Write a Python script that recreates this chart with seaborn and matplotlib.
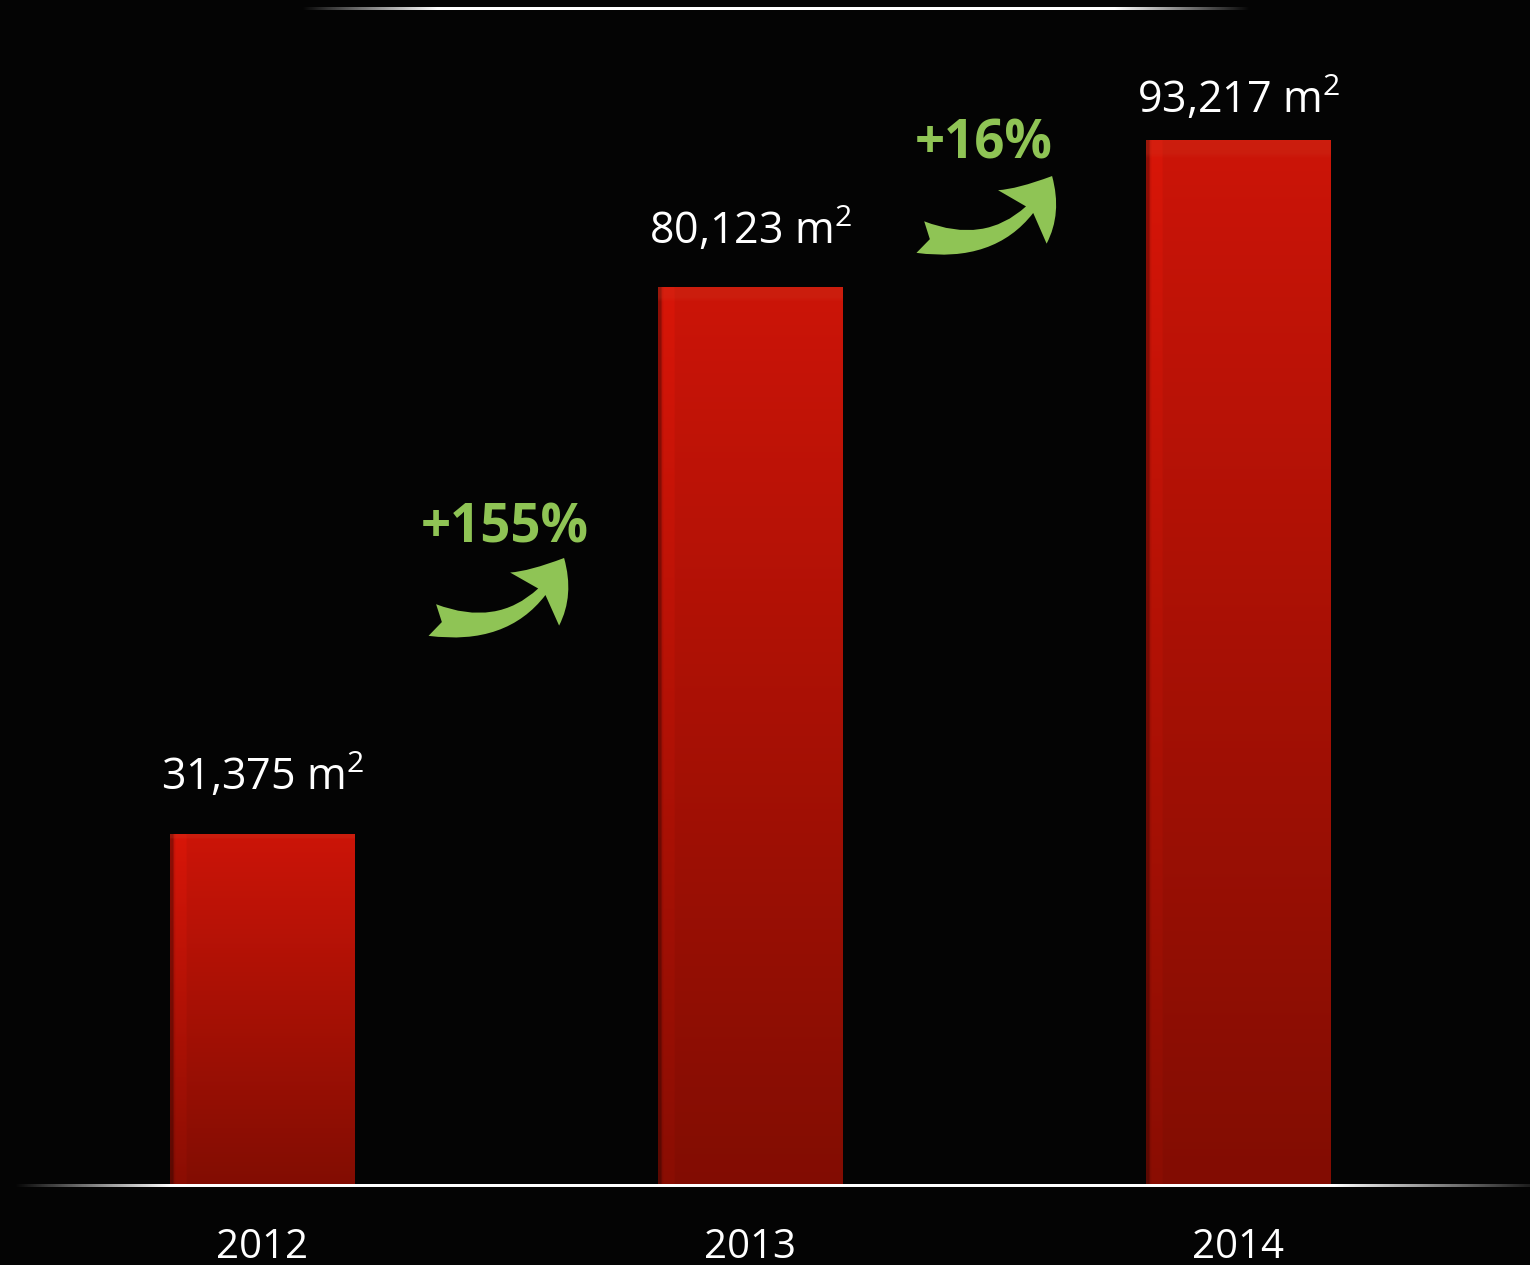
import numpy as np
import pandas as pd
import matplotlib
matplotlib.use("Agg")
import matplotlib.pyplot as plt
import seaborn as sns
from matplotlib.patches import ArrowStyle

# Leased area per year (m²)
years = ["2012", "2013", "2014"]
areas = [31375, 80123, 93217]
area_labels = ["31,375 m$^2$", "80,123 m$^2$", "93,217 m$^2$"]

df = pd.DataFrame({"year": years, "area": areas})

BG = "#040404"
GREEN = "#8fc455"
TEXT_FONT = ["Open Sans", "DejaVu Sans"]

sns.set_theme(style="dark")
plt.rcParams["font.family"] = TEXT_FONT
plt.rcParams["mathtext.fontset"] = "custom"
plt.rcParams["mathtext.rm"] = "Open Sans"
plt.rcParams["mathtext.it"] = "Open Sans"
plt.rcParams["mathtext.bf"] = "Open Sans:bold"

W, H, DPI = 1530, 1265, 100
fig = plt.figure(figsize=(W / DPI, H / DPI), dpi=DPI, facecolor=BG)
base_px = 1186
ax = fig.add_axes([0, (H - base_px) / H, 1, base_px / H])
ax.set_facecolor(BG)

sns.barplot(data=df, x="year", y="area", color="#b81004", width=0.379,
            saturation=1, ax=ax, zorder=2)

ax.set_xticks([])
ax.set_yticks([])
ax.set_xlabel("")
ax.set_ylabel("")
for s in ax.spines.values():
    s.set_visible(False)
ax.grid(False)

# Gradient fill for every bar: bright red at top, deep red at bottom,
# a light band on the top edge and a soft highlight near the left edge.
top = np.array([0.80, 0.08, 0.03])
bot = np.array([0.51, 0.05, 0.01])
ny, nx = 200, 100
t = np.linspace(0, 1, ny)[:, None, None]
grad = top * (1 - t) + bot * t
grad = np.repeat(grad, nx, axis=1)
xs = np.linspace(0, 1, nx)
edge = np.ones(nx)
edge[xs < 0.015] = 0.70
edge[(xs >= 0.03) & (xs < 0.09)] = 1.06
grad = grad * edge[None, :, None]
grad[:3] = grad[:3] * 0.8 + np.array([0.80, 0.25, 0.15]) * 0.2
grad = np.clip(grad, 0, 1)

for patch in list(ax.patches):
    x0, y0 = patch.get_x(), patch.get_y()
    w, h = patch.get_width(), patch.get_height()
    im = ax.imshow(grad, extent=[x0, x0 + w, y0, y0 + h], aspect="auto",
                   interpolation="bilinear", zorder=3)
    im.set_clip_path(patch)
    patch.set_edgecolor("none")

ax.set_xlim(-262.5 / 488, (W - 262.5) / 488)
ax.set_ylim(0, 105700)

# Value labels above the bars
label_gap_pt = [31.5, 31.0, 19.5]
for i, (v, lab) in enumerate(zip(areas, area_labels)):
    ax.annotate(lab, xy=(i, v), xytext=(0, label_gap_pt[i]),
                textcoords="offset points", ha="center", va="baseline",
                color="white", fontsize=31, zorder=5)

# Year labels under the baseline
for i, yr in enumerate(years):
    ax.text(i, -72 / base_px, yr, transform=ax.get_xaxis_transform(),
            ha="center", va="baseline", color="white", fontsize=29,
            clip_on=False)

# Growth arrows and percentages between consecutive years
growth = [(areas[i + 1] / areas[i] - 1) * 100 for i in range(len(areas) - 1)]
arrow_tail_y = [50440, 84570]
arrow_tip_y = [55970, 90010]
pct_y = [57390, 91610]
pct_dx = [-0.003, -0.022]
for i, g in enumerate(growth):
    mid = i + 0.5
    ax.annotate("", xy=(mid + 0.118, arrow_tip_y[i]),
                xytext=(mid - 0.152, arrow_tail_y[i]),
                arrowprops=dict(
                    arrowstyle=ArrowStyle.Fancy(head_length=0.7,
                                                head_width=1.0,
                                                tail_width=0.45),
                    connectionstyle="arc3,rad=0.4",
                    color=GREEN, shrinkA=0, shrinkB=0,
                    mutation_scale=52, lw=0),
                zorder=4)
    ax.text(mid + pct_dx[i], pct_y[i], f"+{g:.0f}%", ha="center",
            va="baseline", color=GREEN, fontsize=38, fontweight="bold",
            zorder=5)

# Thin white rules with faded ends, drawn on a pixel-space overlay
overlay = fig.add_axes([0, 0, 1, 1], facecolor="none")
overlay.set_xlim(0, W)
overlay.set_ylim(H, 0)
overlay.axis("off")


def faded_rule(yc, x_in0, x_in1, x_out0, x_out1, end_alpha, thick=3):
    px = np.arange(W) + 0.5
    a = np.ones(W)
    a = np.where(px < x_in1, (px - x_in0) / (x_in1 - x_in0), a)
    a = np.where(px > x_out0,
                 1 - (1 - end_alpha) * (px - x_out0) / (x_out1 - x_out0), a)
    a = np.clip(a, 0, 1)
    a[px > x_out1] = 0
    rgba = np.ones((1, W, 4))
    rgba[0, :, 3] = a
    overlay.imshow(rgba, extent=[0, W, yc + thick / 2, yc - thick / 2],
                   aspect="auto", interpolation="nearest", zorder=6)


faded_rule(base_px, 15, 170, 1335, 1530, 0.1)
faded_rule(9, 302, 437, 1115, 1250, 0.0)
overlay.set_xlim(0, W)
overlay.set_ylim(H, 0)

fig.savefig("out.png", dpi=DPI, facecolor=BG)
